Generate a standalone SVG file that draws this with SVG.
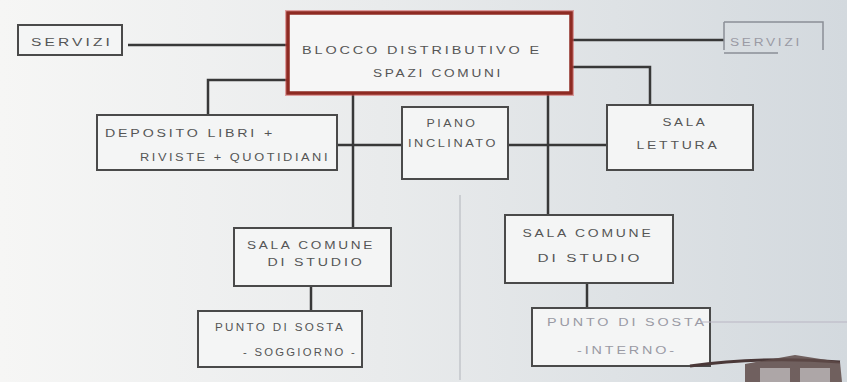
<svg xmlns="http://www.w3.org/2000/svg" width="847" height="382" viewBox="0 0 847 382">
<defs>
<linearGradient id="bg" x1="0" y1="0" x2="1" y2="0">
<stop offset="0" stop-color="#f6f6f5"/>
<stop offset="0.45" stop-color="#e9ebec"/>
<stop offset="1" stop-color="#d3d9de"/>
</linearGradient>
<style>
.box{fill:#f4f5f5;stroke:#4a4a4a;stroke-width:2}
.faint{fill:none;stroke:#8a8f96;stroke-width:1.5}
.line{fill:none;stroke:#383838;stroke-width:2.5}
.t{font-family:"Liberation Sans",Arial,sans-serif;font-size:10px;fill:#555;text-anchor:middle;letter-spacing:2px}
.tl{font-family:"Liberation Sans",Arial,sans-serif;font-size:10px;fill:#9a9aa4;text-anchor:middle;letter-spacing:2px}
</style>
</defs>
<rect width="847" height="382" fill="url(#bg)"/>
<line x1="460" y1="195" x2="460" y2="380" stroke="#c2c6ca" stroke-width="1.5"/>
<g id="connectors">
<path class="line" d="M128 45 H288"/>
<path class="line" d="M571 40 H724"/>
<path class="line" d="M571 67 H650 V104"/>
<path class="line" d="M288 80 H208 V115"/>
<path class="line" d="M353 93 V228"/>
<path class="line" d="M548 93 V215"/>
<path class="line" d="M337 145 H402"/>
<path class="line" d="M508 145 H607"/>
<path class="line" d="M311 286 V311"/>
<path class="line" d="M587 283 V308"/>
</g>
<g id="servizi-left">
<rect class="box" x="18" y="25" width="104" height="30"/>
<text class="t" x="72" y="46" textLength="82" lengthAdjust="spacingAndGlyphs">SERVIZI</text>
</g>
<g id="blocco">
<rect x="288" y="13" width="283" height="80" fill="#f6f6f6" stroke="#d05050" stroke-width="6" opacity="0.5"/>
<rect x="288" y="13" width="283" height="80" fill="#f6f6f6" stroke="#8e2a22" stroke-width="3.5"/>
<text class="t" x="422" y="54" textLength="240" lengthAdjust="spacingAndGlyphs">BLOCCO DISTRIBUTIVO E</text>
<text class="t" x="438" y="77" textLength="130" lengthAdjust="spacingAndGlyphs">SPAZI COMUNI</text>
</g>
<g id="servizi-right">
<path class="faint" d="M724 22 H823 V50 M724 22 V50 M724 53 H778"/>
<text class="tl" x="766" y="46" textLength="72" lengthAdjust="spacingAndGlyphs">SERVIZI</text>
</g>
<g id="deposito">
<rect class="box" x="97" y="115" width="240" height="55"/>
<text class="t" x="190" y="137" textLength="170" lengthAdjust="spacingAndGlyphs">DEPOSITO LIBRI +</text>
<text class="t" x="235" y="161" textLength="190" lengthAdjust="spacingAndGlyphs">RIVISTE + QUOTIDIANI</text>
</g>
<g id="piano">
<rect class="box" x="402" y="107" width="106" height="72"/>
<text class="t" x="452" y="127" textLength="51" lengthAdjust="spacingAndGlyphs">PIANO</text>
<text class="t" x="453" y="147" textLength="90" lengthAdjust="spacingAndGlyphs">INCLINATO</text>
</g>
<g id="sala-lettura">
<rect class="box" x="607" y="105" width="146" height="65"/>
<text class="t" x="685" y="126" textLength="45" lengthAdjust="spacingAndGlyphs">SALA</text>
<text class="t" x="678" y="149" textLength="83" lengthAdjust="spacingAndGlyphs">LETTURA</text>
</g>
<g id="sala-comune-1">
<rect class="box" x="234" y="228" width="157" height="58"/>
<text class="t" x="311" y="249" textLength="128" lengthAdjust="spacingAndGlyphs">SALA COMUNE</text>
<text class="t" x="316" y="266" textLength="97" lengthAdjust="spacingAndGlyphs">DI STUDIO</text>
</g>
<g id="punto-sosta-1">
<rect class="box" x="198" y="311" width="164" height="56"/>
<text class="t" x="280" y="331" textLength="130" lengthAdjust="spacingAndGlyphs">PUNTO DI SOSTA</text>
<text class="t" x="300" y="356" textLength="114" lengthAdjust="spacingAndGlyphs">- SOGGIORNO -</text>
</g>
<g id="sala-comune-2">
<rect class="box" x="505" y="215" width="168" height="68"/>
<text class="t" x="588" y="237" textLength="131" lengthAdjust="spacingAndGlyphs">SALA COMUNE</text>
<text class="t" x="590" y="262" textLength="105" lengthAdjust="spacingAndGlyphs">DI STUDIO</text>
</g>
<g id="punto-sosta-2">
<rect class="box" x="532" y="308" width="178" height="58" stroke="#8a8e94" stroke-width="1.5"/>
<text class="tl" x="627" y="326" textLength="160" lengthAdjust="spacingAndGlyphs">PUNTO DI SOSTA</text>
<text class="tl" x="627" y="354" textLength="100" lengthAdjust="spacingAndGlyphs">-INTERNO-</text>
</g>
<path d="M700 322 H847" stroke="#b9b5c4" stroke-width="1.2" fill="none"/>
<path d="M690 366 Q760 356 840 362" stroke="#4a3838" stroke-width="3" fill="none"/>
<path d="M745 364 L795 355 L840 362 L842 382 L745 382 Z" fill="#5e4a48" opacity="0.85"/>
<path d="M760 368 H790 V382 H760 Z M800 368 H830 V382 H800 Z" fill="#c8c4c6" opacity="0.7"/>
</svg>
